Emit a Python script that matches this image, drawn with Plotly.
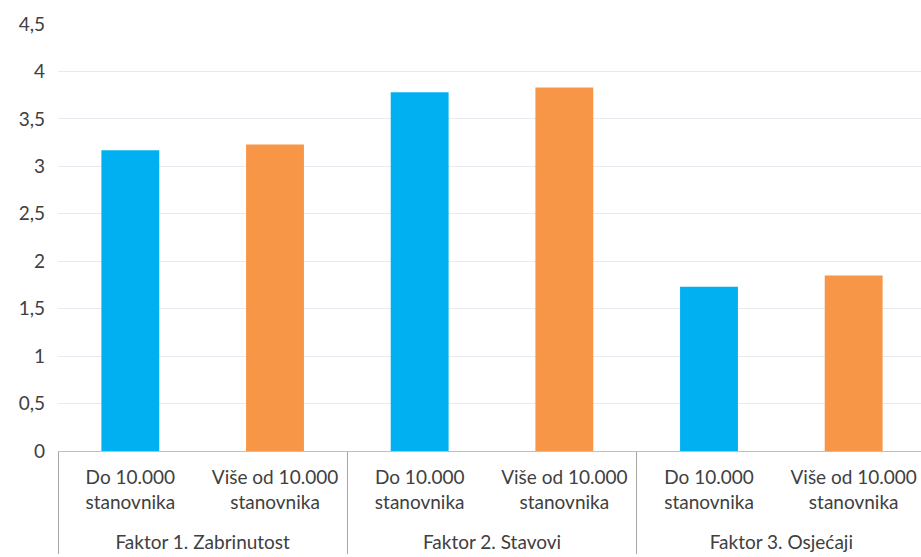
import plotly.graph_objects as go

groups = ["Faktor 1. Zabrinutost", "Faktor 2. Stavovi", "Faktor 3. Osjećaji"]
subcats = ["Do 10.000<br>stanovnika", "Više od 10.000<br>stanovnika"]
do_values = [3.17, 3.78, 1.73]
vise_values = [3.23, 3.83, 1.85]
y_ticks = [0, 0.5, 1, 1.5, 2, 2.5, 3, 3.5, 4, 4.5]
y_tick_labels = ["0", "0,5", "1", "1,5", "2", "2,5", "3", "3,5", "4", "4,5"]

x_outer = []
x_inner = []
vals = []
colors = []
for g, d, v in zip(groups, do_values, vise_values):
    x_outer += ["<br>" + g, "<br>" + g]
    x_inner += subcats
    vals += [d, v]
    colors += ["#00B0F0", "#F79646"]

fig = go.Figure(go.Bar(x=[x_outer, x_inner], y=vals, marker=dict(color=colors, line=dict(width=0)), width=0.4))

font_family = "Lato, Carlito, Calibri, sans-serif"
fig.update_layout(
    width=926, height=557,
    margin=dict(l=58, r=0, t=24, b=106),
    plot_bgcolor="white", paper_bgcolor="white",
    showlegend=False,
    font=dict(family=font_family, size=19, color="#404040"),
    xaxis=dict(
        type="multicategory",
        automargin=False,
        showline=True, linecolor="#BFBFBF", linewidth=1,
        showdividers=True, dividercolor="#A6A6A6", dividerwidth=1,
        tickfont=dict(size=19, color="#404040"),
        ticks="",
        ticklabelstandoff=9,
    ),
    yaxis=dict(
        automargin=False,
        range=[0, 4.5],
        tickvals=y_ticks, ticktext=y_tick_labels,
        showgrid=True, gridcolor="#E6EBF2", gridwidth=1,
        zeroline=False, showline=False,
        tickfont=dict(size=19, color="#404040"),
        ticklabelstandoff=12,
    ),
)
fig.write_html(
    "out.html",
    config={"displayModeBar": False},
    post_script="document.body.style.margin='0';document.body.style.overflow='hidden';document.documentElement.style.overflow='hidden';",
)
